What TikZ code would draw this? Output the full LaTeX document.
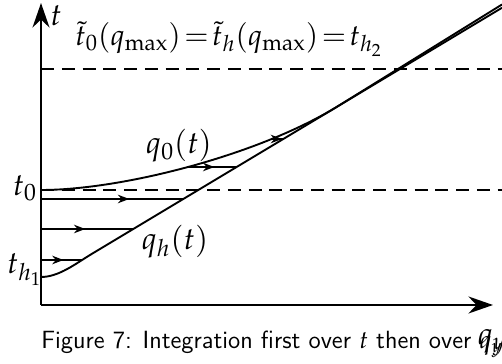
\documentclass[tikz,border=0pt]{standalone}
\usepackage{mathpazo}
\usetikzlibrary{arrows.meta,decorations.markings}

\begin{document}
\begin{tikzpicture}[x=0.1863cm, y=0.1863cm,
    axis/.style={line width=1.1pt, -{Stealth[length=13pt, width=9pt]}},
    curve/.style={line width=1pt},
    level/.style={line width=1pt, dash pattern=on 7pt off 4pt},
    flow/.style={line width=1pt, postaction={decorate},
      decoration={markings, mark=at position #1 with
        {\arrow{Stealth[length=6pt, width=4.5pt]}}}},
    lab/.style={font=\fontsize{16.5}{19}\selectfont}]

  \useasboundingbox (-4.1,-5.9) rectangle (46.1,30.5);

  % ================================================================
  % Axes
  % ================================================================

  \coordinate (O) at (0,0);
  \coordinate (ttip) at (0,30.2);
  \coordinate (qtip) at (45.2,0);

  \draw[axis] (O) -- (ttip);
  \draw[axis] (O) -- (qtip);
  \node[lab] (tlab) at (1.5,28.9) {$t$};
  \node[lab] (qylab) at (45.1,-3.8) {$q_y$};

  % ================================================================
  % Levels t_0 and t_h2  (dashed)
  % ================================================================

  \coordinate (t0) at (0,11.5);
  \coordinate (t0r) at (46.1,11.5);
  \coordinate (th2) at (0,23.6);
  \coordinate (th2r) at (46.1,23.6);
  \coordinate (th1) at (0,2.8);

  \draw[level] (t0) -- (t0r);
  \draw[level] (th2) -- (th2r);

  \node[lab, left, inner sep=2pt] (t0lab) at (0,11.7) {$t_0$};
  \node[lab, anchor=base east, inner sep=0pt] (th1lab) at (0.15,3.1)
    {$t_{h_1}$};
  \node[font=\fontsize{15.6}{18}\selectfont] (toplab) at (18.8,26.6)
    {$\tilde{t}_0(q_{\max})\!=\!\tilde{t}_h(q_{\max})\!=\!t_{h_2}$};

  % ================================================================
  % Curves q_0(t) and q_h(t)
  % ================================================================

  \coordinate (qhjoin) at (5,5.06);
  \coordinate (qhend) at (46.1,29.72);
  \coordinate (q0join) at (29.4,19.7);
  \coordinate (q0end) at (46.1,30.05);

  \draw[curve] (th1) .. controls (1.8,2.8) and (3.5,4.16) .. (qhjoin)
    -- (qhend);
  \draw[curve] (t0) .. controls (8,11.5) and (21.4,14.9) .. (q0join)
    -- (q0end);

  \node[lab] (q0lab) at (13.8,15.9) {$q_0(t)$};
  \node[lab] (qhlab) at (13.4,6.3) {$q_h(t)$};

  % ================================================================
  % Integration strips (over q_y first)
  % ================================================================

  \coordinate (s1a) at (0,4.5);     \coordinate (s1b) at (4.1,4.5);
  \coordinate (s2a) at (0,7.6);     \coordinate (s2b) at (9.23,7.6);
  \coordinate (s3a) at (0,10.6);    \coordinate (s3b) at (14.23,10.6);
  \coordinate (s4a) at (14.6,13.8); \coordinate (s4b) at (19.57,13.8);
  \coordinate (s5a) at (23.0,16.6); \coordinate (s5b) at (24.23,16.6);

  \draw[flow=0.55] (s1a) -- (s1b);
  \draw[flow=0.48] (s2a) -- (s2b);
  \draw[flow=0.62] (s3a) -- (s3b);
  \draw[flow=0.55] (s4a) -- (s4b);
  \draw[flow=0.9] (s5a) -- (s5b);

  % --- caption line ---
  \node[anchor=base west, inner sep=0pt,
        font=\sffamily\fontsize{13.2}{15}\selectfont] (cap) at (0,-4.4)
    {Figure 7: Integration first over $t$ then over $q_y$};

\end{tikzpicture}
\end{document}
